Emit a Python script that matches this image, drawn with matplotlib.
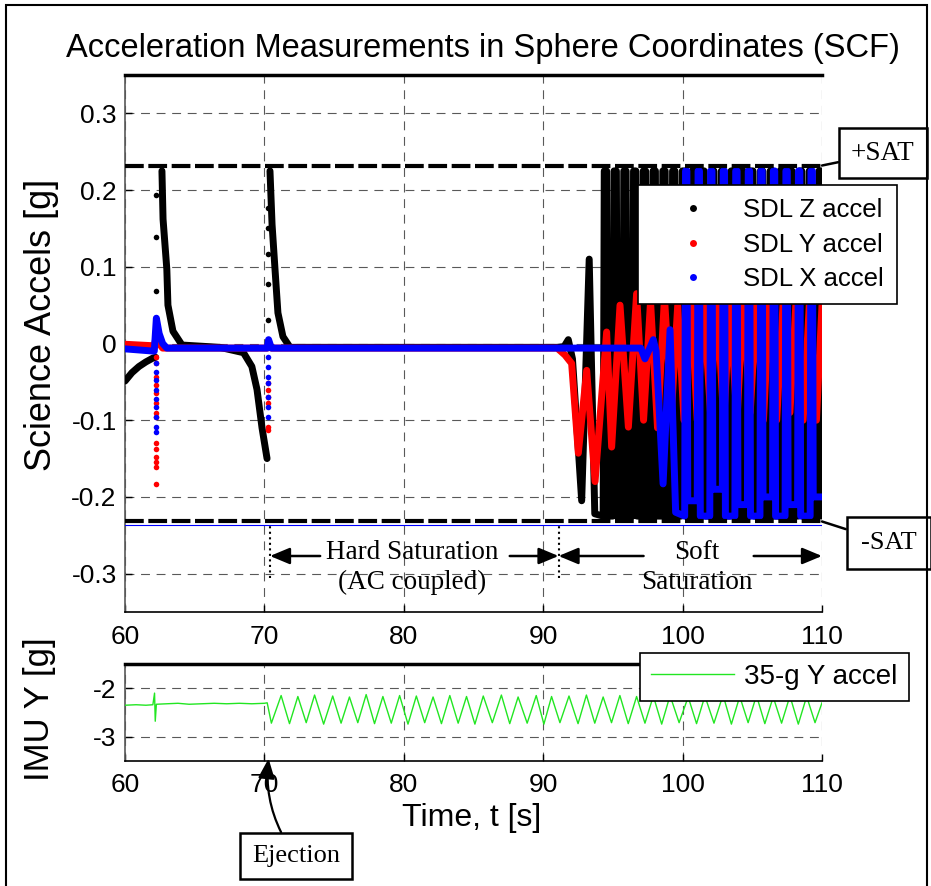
import matplotlib
matplotlib.use("Agg")
import matplotlib.pyplot as plt
from matplotlib.lines import Line2D
from matplotlib.patches import Rectangle
import numpy as np

nan = np.nan

plt.rcParams['font.family'] = ['Liberation Sans', 'DejaVu Sans']
plt.rcParams['axes.unicode_minus'] = False
SERIF = ['Liberation Serif', 'DejaVu Serif']

# levels / event times
SAT = 0.232
X_FLOOR = -0.236
EJECT_T = 70.4
SOFT_T = 91.1
SPIKE1_T = 62.25
SPIKE2_T = 70.25

# SDL Z accel (black), nan splits the trace
z_t = [60.0, 60.5, 61.0, 61.5, 62.0, 62.2, nan,
       62.65, 62.73, 63.0, 63.08, 63.44, 64.09, 66.8, 68.5, 69.1, 69.47, 69.83, 70.19, nan,
       70.4, 70.55, 70.76, 70.97, 71.33, 71.84, 91.0, 91.5, 91.8, 92.1, 92.76, 93.3, 93.7,
       94.3, 94.38, 94.55, 94.63,
       95.0, 95.08, 95.25, 95.33,
       95.7, 95.78, 95.95, 96.03,
       96.4, 96.48, 96.65, 96.73,
       97.1, 97.18, 97.35, 97.43,
       97.8, 97.88, 98.05, 98.13,
       98.5, 98.58, 98.75, 98.83,
       99.2, 99.28, 99.45, 99.53,
       99.9, 99.98, 100.15, 100.23,
       100.6, 100.68, 100.85, 100.93,
       101.3, 101.38, 101.55, 101.63,
       102.0, 102.08, 102.25, 102.33,
       102.7, 102.78, 102.95, 103.03,
       103.4, 103.48, 103.65, 103.73,
       104.1, 104.18, 104.35, 104.43,
       104.8, 104.88, 105.05, 105.13,
       105.5, 105.58, 105.75, 105.83,
       106.2, 106.28, 106.45, 106.53,
       106.9, 106.98, 107.15, 107.23,
       107.6, 107.68, 107.85, 107.93,
       108.3, 108.38, 108.55, 108.63,
       109.0, 109.08, 109.25, 109.33,
       109.7, 109.78, 109.95, 110.0]
z_v = [-0.049, -0.038, -0.030, -0.024, -0.019, -0.018, nan,
       0.225, 0.162, 0.097, 0.05, 0.016, -0.002, -0.005, -0.012, -0.03, -0.06, -0.11, -0.15, nan,
       0.225, 0.155, 0.097, 0.04, 0.009, -0.005, -0.005, -0.004, 0.005, -0.02, -0.205, 0.11, -0.222,
       -0.225, 0.225, 0.225, -0.225,
       -0.225, 0.225, 0.225, -0.225,
       -0.225, 0.225, 0.225, -0.225,
       -0.225, 0.225, 0.225, -0.225,
       -0.225, 0.225, 0.225, -0.225,
       -0.225, 0.225, 0.225, -0.225,
       -0.225, 0.225, 0.225, -0.225,
       -0.225, 0.225, 0.225, -0.225,
       -0.225, 0.225, 0.225, -0.225,
       -0.225, 0.225, 0.225, -0.225,
       -0.225, 0.225, 0.225, -0.225,
       -0.225, 0.225, 0.225, -0.225,
       -0.225, 0.225, 0.225, -0.225,
       -0.225, 0.225, 0.225, -0.225,
       -0.225, 0.225, 0.225, -0.225,
       -0.225, 0.225, 0.225, -0.225,
       -0.225, 0.225, 0.225, -0.225,
       -0.225, 0.225, 0.225, -0.225,
       -0.225, 0.225, 0.225, -0.225,
       -0.225, 0.225, 0.225, -0.225,
       -0.225, 0.225, 0.225, -0.225,
       -0.225, 0.225, 0.225, -0.225,
       -0.225, 0.225, 0.225, -0.225]
z_spike1 = [0.194, 0.139, 0.069]
z_spike2 = [0.176, 0.151, 0.117, 0.078, 0.03]

# SDL Y accel (red)
y_t = [60.0, 62.1, 62.25, 62.45, 62.7, 70.2, 70.3, 70.5,
       91.0, 91.56, 92.04, 92.52, 93.12, 93.72, 94.55, 94.91, 95.51, 96.11, 96.7,
       97.2, 97.7, 98.2, 98.7, 99.2, 99.65, 100.1, 100.6, 101.05, 101.5, 102.0, 102.45,
       102.95, 103.4, 103.9, 104.35, 104.85, 105.3, 105.8, 106.25, 106.75, 107.2, 107.7,
       108.15, 108.65, 109.1, 109.6, 110.0]
y_v = [-0.001, -0.003, 0.01, 0.0, -0.006, -0.006, 0.0, -0.006,
       -0.006, -0.015, -0.026, -0.143, -0.035, -0.18, 0.015, -0.135, 0.05, -0.109, 0.065,
       -0.10, 0.055, -0.11, 0.06, -0.09, 0.05, -0.1, 0.06, -0.1, 0.055, -0.09, 0.06,
       -0.1, 0.05, -0.1, 0.06, -0.09, 0.055, -0.1, 0.06, -0.1, 0.05, -0.09,
       0.06, -0.1, 0.055, -0.1, 0.05]
y_spike1 = [-0.017, -0.026, -0.044, -0.054, -0.065, -0.078, -0.091, -0.096,
            -0.13, -0.137, -0.148, -0.154, -0.161, -0.183]
y_spike2 = [-0.052, -0.061, -0.07, -0.078, -0.109, -0.113]

# SDL X accel (blue)
x_t = [60.0, 62.1, 62.25, 62.45, 62.7, 63.0, 70.2, 70.3, 70.5,
       97.0, 97.3, 97.6, 97.9, 98.1, 98.6, 99.1, 99.5,
       100.15, 100.21, 100.31, 100.37, 101.05, 101.11, 101.21, 101.27,
       101.95, 102.01, 102.11, 102.17, 102.85, 102.91, 103.01, 103.07,
       103.75, 103.81, 103.91, 103.97, 104.65, 104.71, 104.81, 104.87,
       105.55, 105.61, 105.71, 105.77, 106.45, 106.51, 106.61, 106.67,
       107.35, 107.41, 107.51, 107.57, 108.25, 108.31, 108.41, 108.47,
       109.15, 109.21, 109.31, 109.37, 110.0]
x_v = [-0.007, -0.01, 0.033, 0.013, 0.0, -0.006, -0.006, 0.005, -0.006,
       -0.006, -0.02, -0.008, 0.005, -0.01, -0.183, 0.018, -0.22,
       -0.225, 0.225, 0.225, -0.205, -0.205, 0.225, 0.225, -0.225,
       -0.225, 0.225, 0.225, -0.19, -0.19, 0.225, 0.225, -0.225,
       -0.225, 0.225, 0.225, -0.21, -0.21, 0.225, 0.225, -0.225,
       -0.225, 0.225, 0.225, -0.2, -0.2, 0.225, 0.225, -0.225,
       -0.225, 0.225, 0.225, -0.21, -0.21, 0.225, 0.225, -0.225,
       -0.225, 0.225, 0.225, -0.2, -0.2]
x_spike1 = [-0.026, -0.037, -0.048, -0.061, -0.072, -0.083, -0.096, -0.109, -0.115]
x_spike2 = [-0.017, -0.03, -0.044, -0.052, -0.07, -0.083, -0.096]

# 35-g IMU Y accel (green)
imu_t = [60.0, 60.8, 61.5, 62.0, 62.12, 62.17, 62.25, 63.0, 63.8, 64.6, 65.5, 66.4, 67.3,
         68.2, 69.1, 70.0, 70.2,
         70.5, 71.2, 71.8, 72.4, 73.0, 73.6, 74.25, 74.9, 75.5, 76.1,
         76.7, 77.3, 77.9, 78.5, 79.1, 79.7, 80.3, 80.9, 81.5, 82.1,
         82.7, 83.3, 83.9, 84.5, 85.1, 85.7, 86.35, 87.0, 87.6, 88.2,
         88.85, 89.5, 90.05, 90.6, 91.2, 91.85, 92.5, 93.1, 93.7, 94.3,
         94.9, 95.5, 96.1, 96.7, 97.3, 97.9, 98.5, 99.1, 99.75, 100.4,
         101.0, 101.6, 102.25, 102.9, 103.5, 104.1, 104.7, 105.3, 105.9, 106.5,
         107.1, 107.7, 108.3, 108.9, 109.5, 110.0]
imu_v = [-2.35, -2.34, -2.35, -2.34, -2.10, -2.68, -2.33, -2.32, -2.31, -2.33, -2.32, -2.31, -2.32,
         -2.31, -2.32, -2.31, -2.30,
         -2.72, -2.15, -2.73, -2.17, -2.71, -2.14, -2.74, -2.16, -2.72, -2.18,
         -2.71, -2.13, -2.73, -2.17, -2.72, -2.15, -2.74, -2.16, -2.71, -2.18,
         -2.73, -2.15, -2.72, -2.17, -2.74, -2.16, -2.71, -2.14, -2.73, -2.18,
         -2.72, -2.15, -2.74, -2.17, -2.71, -2.16, -2.73, -2.14, -2.72, -2.18,
         -2.71, -2.15, -2.73, -2.17, -2.72, -2.16, -2.74, -2.15, -2.71, -2.18,
         -2.73, -2.16, -2.72, -2.14, -2.74, -2.17, -2.71, -2.15, -2.73, -2.18,
         -2.72, -2.16, -2.74, -2.17, -2.71, -2.30]

x_ticks = [60, 70, 80, 90, 100, 110]
sci_ticks = [-0.3, -0.2, -0.1, 0, 0.1, 0.2, 0.3]
imu_ticks = [-3, -2]

W, H = 931, 886
fig = plt.figure(figsize=(W / 100, H / 100), dpi=100)
ax = fig.add_axes([125 / W, 1 - 612 / H, 697 / W, 537 / H])
ax2 = fig.add_axes([125 / W, 1 - 761 / H, 697 / W, 97 / H])

trace = dict(lw=5, solid_capstyle='round', solid_joinstyle='round', zorder=3)
ax.plot(z_t, z_v, color='black', **trace)
ax.plot(y_t, y_v, color='red', **trace)
ax.plot(x_t, x_v, color='blue', **trace)

dot = dict(ls='none', marker='o', ms=4, mec='none', zorder=3)
for spikes, c in [((z_spike1, z_spike2), 'black'), ((y_spike1, y_spike2), 'red'),
                  ((x_spike1, x_spike2), 'blue')]:
    ax.plot(np.full(len(spikes[0]), SPIKE1_T), spikes[0], color=c, **dot)
    ax.plot(np.full(len(spikes[1]), SPIKE2_T), spikes[1], color=c, **dot)

ax.axhline(X_FLOOR, color='blue', lw=0.8, zorder=3)
ax.axhline(SAT, color='black', lw=3, ls=(0, (4.5, 1.1)), zorder=5)
ax.axhline(-SAT, color='black', lw=3, ls=(0, (4.5, 1.1)), zorder=5)

# region markers
ax.vlines([EJECT_T, SOFT_T], -0.306, -SAT, colors='black', linestyles=':', lw=1.5, zorder=4)
arr = dict(arrowstyle='-|>,head_length=0.6,head_width=0.25', mutation_scale=20,
           color='black', lw=1.8, shrinkA=0, shrinkB=0)
for tail, head in [(74.0, EJECT_T), (87.6, SOFT_T), (97.2, SOFT_T), (105.1, 110)]:
    ax.annotate('', xy=(head, -0.277), xytext=(tail, -0.277), arrowprops=arr)
serif = dict(family=SERIF, fontsize=19.5, ha='center', va='center')
ax.text(80.6, -0.272, 'Hard Saturation', **serif)
ax.text(80.6, -0.312, '(AC coupled)', **serif)
ax.text(101.0, -0.272, 'Soft', **serif)
ax.text(101.0, -0.312, 'Saturation', **serif)

box = dict(boxstyle='square,pad=0.45', fc='white', ec='black', lw=1.8)
line = dict(arrowstyle='-', color='black', lw=1.8, shrinkA=0, shrinkB=0)
ax.annotate('+SAT', xy=(110, SAT), xytext=(883, H - 153), textcoords='figure pixels',
            family=SERIF, fontsize=19.5, ha='center', va='center', bbox=box,
            arrowprops=line, annotation_clip=False, zorder=6)
ax.annotate('-SAT', xy=(110, -SAT), xytext=(889, H - 543), textcoords='figure pixels',
            family=SERIF, fontsize=19, ha='center', va='center',
            bbox=dict(box, boxstyle='square,pad=0.55'),
            arrowprops=line, annotation_clip=False, zorder=6)

ax2.plot(imu_t, imu_v, color='#22e622', lw=1.0, zorder=3)
ax2.annotate('Ejection', xy=(EJECT_T - 0.1, -3.45), xytext=(296, H - 856),
             textcoords='figure pixels', family=SERIF, fontsize=19,
             ha='center', va='center', bbox=dict(box, boxstyle='square,pad=0.45'),
             arrowprops=dict(arr, lw=1.6, connectionstyle='arc3,rad=-0.2'),
             annotation_clip=False)

for a, yt, ylim in [(ax, sci_ticks, (-0.35, 0.35)), (ax2, imu_ticks, (-3.5, -1.5))]:
    a.set_xlim(60, 110)
    a.set_ylim(*ylim)
    a.set_xticks(x_ticks)
    a.set_yticks(yt)
    a.grid(True, ls=(0, (8, 6)), lw=0.8, color='0.35')
    a.set_axisbelow(True)
    a.tick_params(direction='in', length=5, labelsize=19, width=1)
    a.tick_params(axis='x', pad=9)
    a.tick_params(axis='y', pad=6)
    a.spines['right'].set_visible(False)
    a.spines['top'].set_linewidth(2.5)
    a.spines['left'].set_color('0.35')
    a.spines['left'].set_linewidth(1.2)
    a.spines['bottom'].set_linewidth(1.2)
ax.set_yticklabels(['-0.3', '-0.2', '-0.1', '0', '0.1', '0.2', '0.3'])
ax2.set_yticklabels(['-3', '-2'])

handles = [Line2D([], [], ls='none', marker='o', ms=5, mec='none', color=c)
           for c in ['black', 'red', 'blue']]
leg = ax.legend(handles, ['SDL Z accel', 'SDL Y accel', 'SDL X accel'],
                loc='upper left', bbox_to_anchor=(638 / W, 1 - 185 / H),
                bbox_transform=fig.transFigure, fontsize=18.5, fancybox=False,
                framealpha=1, edgecolor='black', borderpad=0.5, handlelength=3.3,
                handletextpad=0.3, labelspacing=0.42, borderaxespad=0)
leg.get_frame().set_linewidth(1.2)
leg.set_zorder(10)

leg2 = ax2.legend([Line2D([], [], color='#22e622', lw=1.0)], ['35-g Y accel'],
                  loc='upper left', bbox_to_anchor=(640 / W, 1 - 653 / H),
                  bbox_transform=fig.transFigure, fontsize=20, fancybox=False,
                  framealpha=1, edgecolor='black', borderpad=0.4, handlelength=3.0,
                  handletextpad=0.35, borderaxespad=0)
leg2.get_frame().set_linewidth(1.2)
leg2.set_zorder(10)

fig.text(483 / W, 1 - 48 / H, 'Acceleration Measurements in Sphere Coordinates (SCF)',
         fontsize=23.5, ha='center', va='center')
fig.text(42 / W, 1 - 325 / H, 'Science Accels [g]', fontsize=26, rotation=90,
         ha='center', va='center')
fig.text(40 / W, 1 - 709 / H, 'IMU Y [g]', fontsize=25, rotation=90,
         ha='center', va='center')
fig.text(472 / W, 1 - 818 / H, 'Time, t [s]', fontsize=23, ha='center', va='center')

fig.patches.append(Rectangle((6 / W, -0.01), 921 / W, 1.01 - 5 / H, transform=fig.transFigure,
                             fill=False, ec='black', lw=1.5))

fig.savefig('out.png', dpi=100)
